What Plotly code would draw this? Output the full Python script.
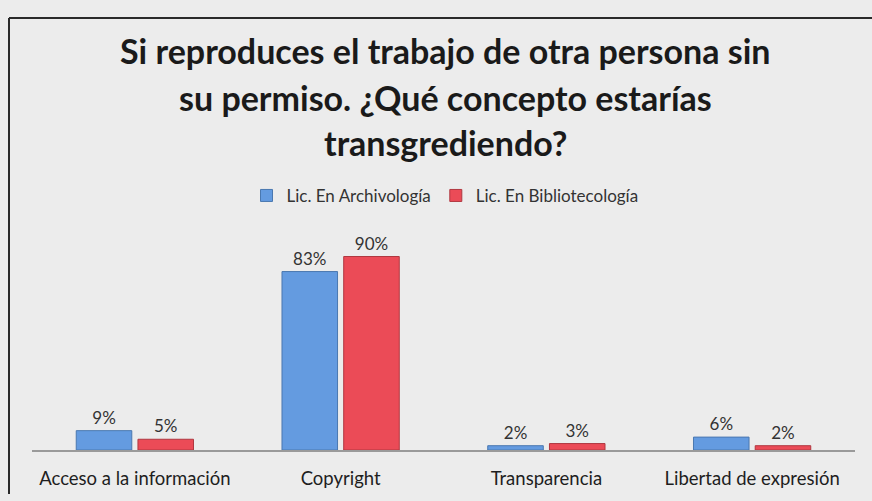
import plotly.graph_objects as go

categories = ["Acceso a la información", "Copyright", "Transparencia", "Libertad de expresión"]
archivologia = [9, 83, 2, 6]
bibliotecologia = [5, 90, 3, 2]
series_names = ["Lic. En Archivología", "Lic. En Bibliotecología"]
title_lines = ["Si reproduces el trabajo de otra persona sin",
               "su permiso. ¿Qué concepto estarías",
               "transgrediendo?"]

W, H = 872, 501
ml, mr, mt, mb = 32, 17, 235, 46
pw, ph = W - ml - mr, H - mt - mb

def px(xp):
    return (xp - ml) / pw

def py(yp):
    return (H - mb - yp) / ph

FONT = "Lato"
BG = "#ececec"

fig = go.Figure()
fig.add_trace(go.Bar(
    x=categories, y=archivologia, name=series_names[0],
    marker=dict(color="#649be0", line=dict(color="#4a78b0", width=1)),
    text=[f"{v}%" for v in archivologia], textposition="outside",
    textfont=dict(size=17, color="#333333", family=FONT), cliponaxis=False,
))
fig.add_trace(go.Bar(
    x=categories, y=bibliotecologia, name=series_names[1],
    marker=dict(color="#eb4b57", line=dict(color="#b03840", width=1)),
    text=[f"{v}%" for v in bibliotecologia], textposition="outside",
    textfont=dict(size=17, color="#333333", family=FONT), cliponaxis=False,
))

annotations = []
for line, yp in zip(title_lines, [46, 94, 140]):
    annotations.append(dict(
        text=f"<b>{line}</b>", xref="paper", yref="paper",
        x=px(445), y=py(yp), xanchor="center", yanchor="middle",
        showarrow=False, font=dict(size=34, color="#1a1a1a", family=FONT),
    ))

shapes = [
    dict(type="line", xref="paper", yref="paper", x0=px(9), x1=px(872), y0=py(13), y1=py(13),
         line=dict(color="#2a2a2a", width=2), layer="above"),
    dict(type="line", xref="paper", yref="paper", x0=px(9), x1=px(9), y0=py(13), y1=py(500),
         line=dict(color="#2a2a2a", width=2), layer="above"),
]

fig.update_layout(
    width=W, height=H, autosize=False,
    margin=dict(l=ml, r=mr, t=mt, b=mb),
    paper_bgcolor=BG, plot_bgcolor=BG,
    font=dict(family=FONT, color="#333333"),
    barmode="group", bargap=0.4, bargroupgap=0.1,
    showlegend=True,
    legend=dict(orientation="h", x=px(445), y=py(195), xanchor="center", yanchor="middle",
                font=dict(size=17, color="#333333", family=FONT), bgcolor="rgba(0,0,0,0)",
                itemwidth=30),
    annotations=annotations,
    shapes=shapes,
)
fig.update_xaxes(showline=True, linecolor="#9a9a9a", linewidth=1.5, showgrid=False,
                 ticks="", tickfont=dict(size=18.5, color="#1e1e1e", family=FONT),
                 ticklabelstandoff=11)
fig.update_yaxes(range=[0, 100], visible=False, showgrid=False, zeroline=False)

fig.write_html("out.html", config={"displayModeBar": False},
               post_script="document.body.style.margin='0';document.body.style.background='#ececec';document.body.style.overflow='hidden';")
